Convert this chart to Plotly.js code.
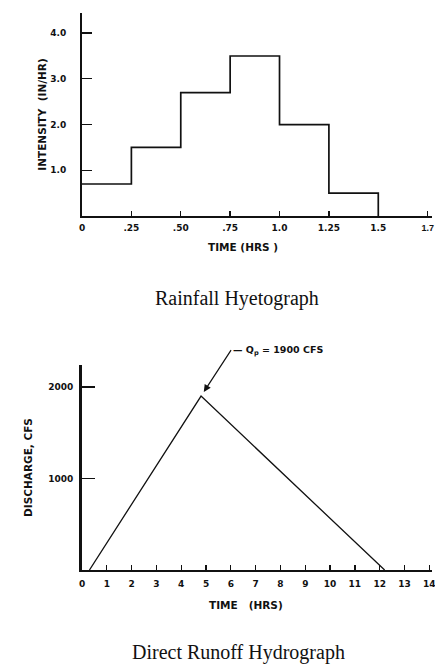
<!DOCTYPE html>
<html>
<head>
<meta charset="utf-8">
<script src="https://cdn.plot.ly/plotly-3.0.1.min.js"></script>
<style>html,body{margin:0;padding:0;background:#fff;}#chart{width:435px;height:664px;}</style>
</head>
<body>
<div id="chart"></div>
<script>
// Rainfall hyetograph data
const intervalStart = [0, 0.25, 0.50, 0.75, 1.00, 1.25];
const intervalEnd = 1.5;
const intensity = [0.7, 1.5, 2.7, 3.5, 2.0, 0.5];
const hyetoTickVals = [0, 0.25, 0.5, 0.75, 1.0, 1.25, 1.5, 1.75];
const hyetoTickText = ["0", ".25", ".50", ".75", "1.0", "1.25", "1.5", "1.7"];
const intensityTickVals = [1, 2, 3, 4];
const intensityTickText = ["1.0", "2.0", "3.0", "4.0"];

// Direct runoff hydrograph data
const hydroTime = [0.3, 4.8, 12.2];
const discharge = [0, 1900, 0];
const hydroTickVals = [0,1,2,3,4,5,6,7,8,9,10,11,12,13,14];
const dischargeTickVals = [1000, 2000];
const peakTime = 4.8;
const peakQ = 1900;

// build step outline from the intervals
const stepX = intervalStart.concat([intervalEnd]);
const stepY = intensity.concat([0]);

// the last, edge-hugging label is set in a narrower face so it fits the page
const hyetoTickHtml = hyetoTickText.map((t, i) =>
  i === hyetoTickText.length - 1 ? '<span style="font-family:Liberation Sans;font-weight:bold">' + t + '</span>' : t);

const sans = "DejaVu Sans, Liberation Sans, sans-serif";
const tickFont = {family: sans, size: 9, color: "#111", weight: "bold"};
const titleFont = {family: sans, size: 10.5, color: "#111", weight: "bold"};
const capFont = {family: "Liberation Serif, DejaVu Serif, serif", size: 20, color: "#111"};

const traces = [
  {x: stepX, y: stepY, xaxis: "x", yaxis: "y", mode: "lines",
   line: {shape: "hv", color: "#111", width: 1.7}, hoverinfo: "x+y"},
  {x: hydroTime, y: discharge, xaxis: "x2", yaxis: "y2", mode: "lines",
   line: {color: "#111", width: 1.3}, hoverinfo: "x+y"}
];

const axBase = {showgrid: false, zeroline: false, showline: true, linecolor: "#111",
  ticks: "inside", tickcolor: "#111", tickfont: tickFont, fixedrange: true,
  ticklabeloverflow: "allow"};

const layout = {
  width: 435, height: 664,
  margin: {l: 0, r: 0, t: 0, b: 0},
  paper_bgcolor: "#fff", plot_bgcolor: "#fff",
  showlegend: false,
  xaxis: Object.assign({}, axBase, {
    domain: [82/435, 432/435], range: [0, 1.772], anchor: "y",
    tickmode: "array", tickvals: hyetoTickVals, ticktext: hyetoTickHtml,
    ticklen: 5, tickwidth: 1.3, linewidth: 2, ticklabelstandoff: 2
  }),
  yaxis: Object.assign({}, axBase, {
    domain: [(664-216)/664, (664-13)/664], range: [0, 4.44], anchor: "x",
    tickmode: "array", tickvals: intensityTickVals, ticktext: intensityTickText,
    ticklen: 10, tickwidth: 1.3, linewidth: 2, ticklabelstandoff: 12,
    title: {text: "INTENSITY  (IN/HR)", font: titleFont, standoff: 2}
  }),
  xaxis2: Object.assign({}, axBase, {
    domain: [82/435, 432/435], range: [0, 14.11], anchor: "y2",
    tickmode: "array", tickvals: hydroTickVals,
    ticklen: 5, tickwidth: 1.3, linewidth: 2.2, ticklabelstandoff: 4
  }),
  yaxis2: Object.assign({}, axBase, {
    domain: [(664-570)/664, (664-365)/664], range: [0, 2240], anchor: "x2",
    tickmode: "array", tickvals: dischargeTickVals,
    ticklen: 13, tickwidth: 1.3, linewidth: 2.8, ticklabelstandoff: 4,
    title: {text: "DISCHARGE, CFS", font: titleFont, standoff: 14}
  }),
  annotations: [
    {xref: "paper", yref: "paper", x: 243/435, y: (664-247)/664, text: "TIME (HRS )",
     showarrow: false, font: titleFont, xanchor: "center", yanchor: "middle"},
    {xref: "paper", yref: "paper", x: 246/435, y: (664-605)/664, text: "TIME&nbsp;&nbsp;&nbsp;(HRS)",
     showarrow: false, font: titleFont, xanchor: "center", yanchor: "middle"},
    {xref: "paper", yref: "paper", x: 237/435, y: (664-298)/664, text: "Rainfall Hyetograph",
     showarrow: false, font: capFont, xanchor: "center", yanchor: "middle"},
    {xref: "paper", yref: "paper", x: 238/435, y: (664-652)/664, text: "Direct Runoff Hydrograph",
     showarrow: false, font: capFont, xanchor: "center", yanchor: "middle"},
    {xref: "x2", yref: "y2", x: peakTime, y: peakQ,
     text: "— Q<sub>p</sub> = 1900 CFS", font: {family: sans, size: 9.5, color: "#111", weight: "bold"},
     showarrow: true, arrowhead: 2, arrowsize: 1.2, arrowwidth: 1.2, arrowcolor: "#111",
     standoff: 5, ax: 30, ay: -46, xanchor: "left", yanchor: "middle"}
  ]
};

Plotly.newPlot("chart", traces, layout, {displayModeBar: false, staticPlot: true});
</script>
</body>
</html>
